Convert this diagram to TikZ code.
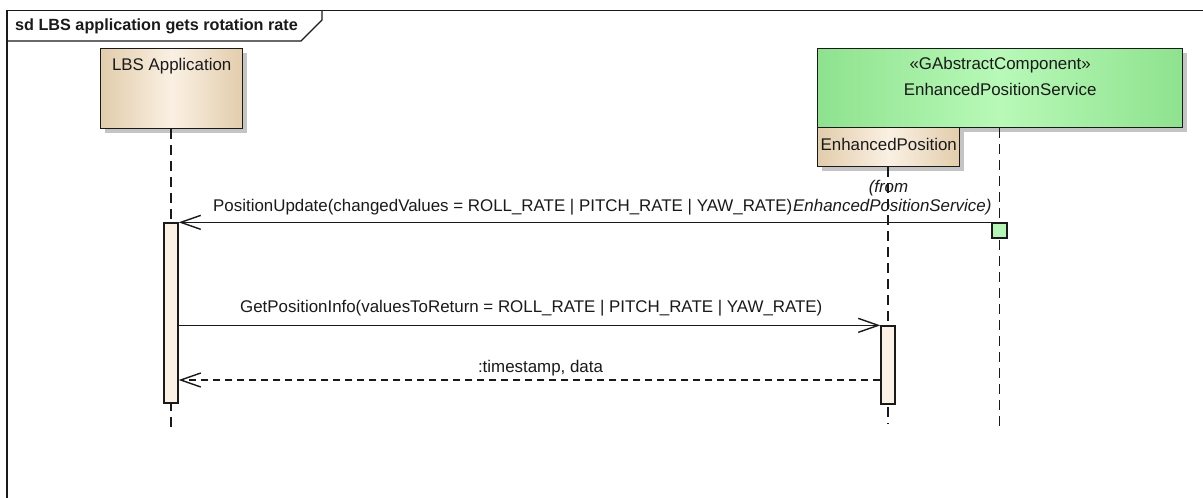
\documentclass[tikz,border=0pt]{standalone}
\usepackage{fontspec}
\setmainfont{Liberation Sans}
\usetikzlibrary{arrows.meta,shadows}
\definecolor{ink}{HTML}{1A1A1A}
\definecolor{beigeD}{HTML}{E2CDAC}
\definecolor{beigeL}{HTML}{FAF0E3}
\definecolor{actfill}{HTML}{FBF1E4}
\definecolor{greenD}{HTML}{8EE28E}
\definecolor{greenL}{HTML}{B8F9B8}
\definecolor{greenS}{HTML}{B5F5B5}
\definecolor{shade}{HTML}{C4C4C4}
\tikzset{
  txt/.style={font=\fontsize{16.9}{19}\selectfont, text=ink, inner sep=0pt},
  itxt/.style={font=\fontsize{16.9}{19}\selectfont\itshape, text=ink, inner sep=0pt},
  ttl/.style={font=\fontsize{16.2}{19}\selectfont\bfseries, text=ink, inner sep=0pt},
  partbox/.style={draw=ink, line width=1.4pt, inner sep=0pt,
    drop shadow={shadow xshift=4pt, shadow yshift=-4pt, fill=shade, opacity=1}},
  beigebox/.style={partbox, left color=beigeD, right color=beigeD, middle color=beigeL},
  greenbox/.style={partbox, left color=greenD, right color=greenD, middle color=greenL},
  actbox/.style={draw=ink, line width=1.3pt, fill=actfill, inner sep=0pt, minimum width=14pt},
  lifeline/.style={draw=ink, line width=1.4pt, dash pattern=on 10pt off 6pt},
  msg/.style={draw=ink, line width=1.4pt, -{Straight Barb[length=20pt,width=14pt,line width=1.4pt]}},
  retmsg/.style={msg, dash pattern=on 7pt off 5pt},
  framel/.style={draw=ink, line width=1.3pt}
}
\begin{document}
\begin{tikzpicture}[x=1pt,y=-1pt]
\useasboundingbox (0,0) rectangle (1203,498);
\fill[white] (0,0) rectangle (1203,498);
% frame
\draw[framel] (7,498) -- (7,10.5) -- (1203,10.5);
\draw[framel] (7,41) -- (301,41) -- (322,20) -- (322,10.5);
\node[ttl, anchor=base west] (title) at (15,30.7) {sd LBS application gets rotation rate};

% participants
\node[beigebox, anchor=north west, minimum width=142pt, minimum height=80pt] (lbs) at (100,48) {};
\node[txt, anchor=base] (lbsname) at (lbs.north |- 0,70.7) {LBS Application};

\node[greenbox, anchor=north west, minimum width=365pt, minimum height=79pt] (eps) at (817,48) {};
\node[txt, anchor=base] (epsst) at (eps.north |- 0,69.5) {«GAbstractComponent»};
\node[txt, anchor=base] (epsname) at (eps.north |- 0,95) {EnhancedPositionService};

\node[beigebox, anchor=north west, minimum width=142pt, minimum height=39pt] (ep) at (817,127) {};
\node[txt, anchor=base] (epname) at (ep.north |- 0,150.5) {EnhancedPosition};

% lifeline ends
\coordinate (lbsend) at (171,428);
\coordinate (epend) at (888,424);
\coordinate (epsend) at (999.5,428);
\draw[lifeline] (lbs.south -| lbsend) -- (lbsend);
\draw[lifeline] (ep.south -| epend) -- (epend);
\draw[lifeline] (eps.south -| epsend) -- (epsend);

% activations
\node[actbox, minimum height=180pt] (actA) at (171,313) {};
\node[actbox, minimum height=78pt] (actB) at (888,365) {};
\node[draw=ink, line width=1.3pt, fill=greenS, inner sep=0pt, minimum size=15pt] (epsact) at (999.5,230.5) {};

% from label
\node[itxt, anchor=base] (from1) at (888.5,192.5) {(from};
\node[itxt, anchor=base west] (from2) at (793,211.5) {EnhancedPositionService)};

% messages
\draw[msg] (epsact.north west) -- (epsact.north west -| actA.east);
\node[txt, anchor=base west] (m1) at (213,211.5) {PositionUpdate(changedValues = ROLL\_RATE | PITCH\_RATE | YAW\_RATE)};

\draw[msg] (actB.north west -| actA.east) -- (actB.north west);
\node[txt, anchor=base west] (m2) at (240,312.7) {GetPositionInfo(valuesToReturn = ROLL\_RATE | PITCH\_RATE | YAW\_RATE)};

\coordinate (ry) at (0,380);
\draw[retmsg] (ry -| actB.west) -- (ry -| actA.east);
\node[txt, anchor=base] (m3) at (540.5,372.3) {:timestamp, data};
\end{tikzpicture}
\end{document}
